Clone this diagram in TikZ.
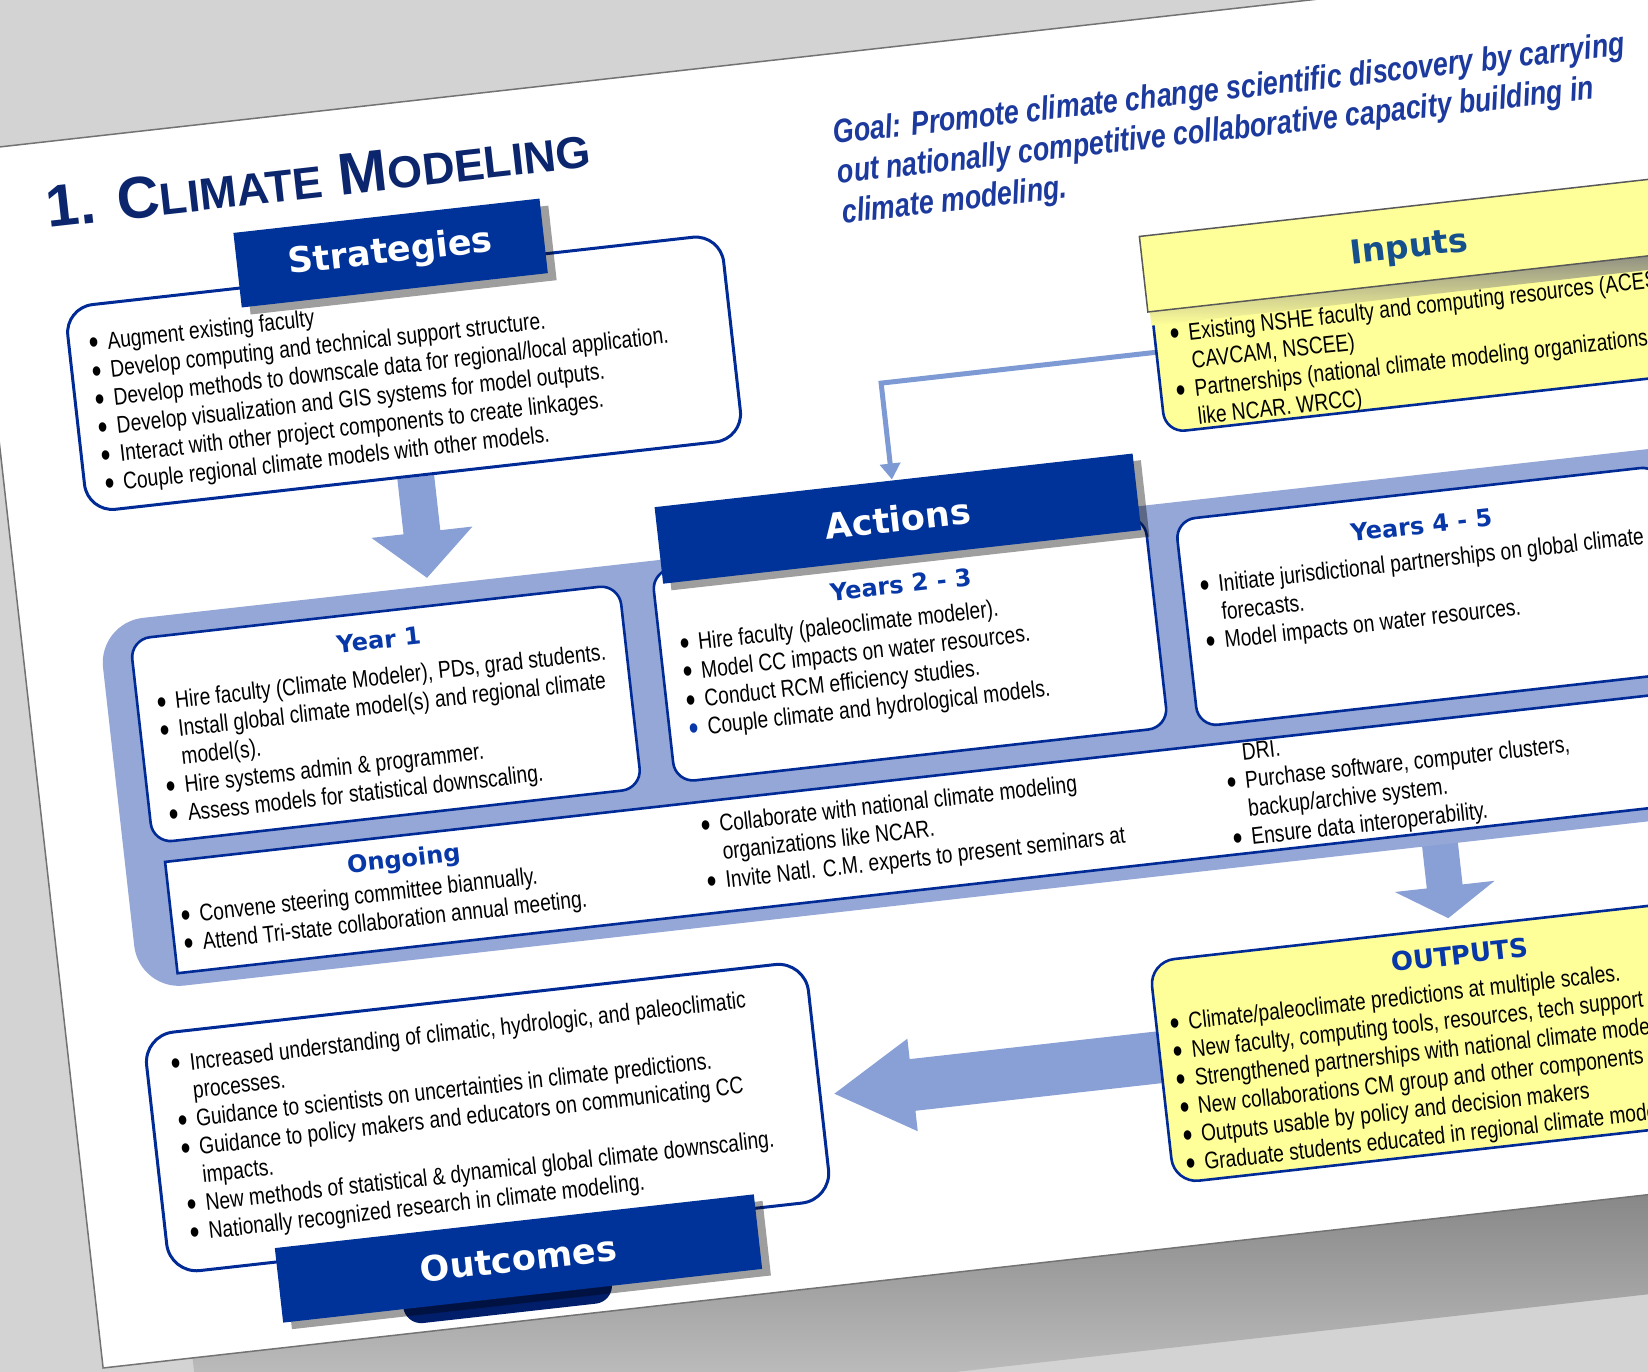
\documentclass[tikz,border=0pt]{standalone}
\usepackage{fontspec}
\setmainfont{Liberation Sans}
\newfontfamily\bodyfont{Liberation Sans}[FakeStretch=0.80]
\newfontfamily\headfont{DejaVu Sans}
\usetikzlibrary{arrows.meta}
\definecolor{navy}{RGB}{0,51,153}
\definecolor{boxline}{RGB}{0,42,150}
\definecolor{panelblue}{RGB}{148,167,214}
\definecolor{arrowblue}{RGB}{137,160,214}
\definecolor{connblue}{RGB}{126,154,212}
\definecolor{headblue}{RGB}{8,56,168}
\definecolor{titleblue}{RGB}{12,38,110}
\definecolor{goalblue}{RGB}{28,58,158}
\definecolor{inputblue}{RGB}{22,80,140}
\definecolor{paleyellow}{RGB}{255,255,153}
\definecolor{bggray}{RGB}{211,211,211}
\definecolor{darknavy}{RGB}{0,30,105}
\newcommand\mydot{\raisebox{-3.8pt}{\scalebox{1.45}{\textbullet}}}
\newcommand\mybul[1]{\hbox{\hbox to 18.5pt{\mydot\hss}#1}}
\newcommand\mybulb[1]{\hbox{\hbox to 18.5pt{\textcolor{headblue}{\mydot}\hss}#1}}
\newcommand\mycont[1]{\hbox{\hskip18.5pt #1}}
\newcommand\mylist[1]{\vtop{\baselineskip=28.3pt #1}}
\pgfdeclarelayer{slide}
\pgfdeclarelayer{arrows}
\pgfsetlayers{slide,arrows,main}
\begin{document}
\begin{tikzpicture}[x=1pt,y=1pt,
  box/.style={draw=boxline, line width=2.6pt, fill=white, rounded corners=20pt, inner sep=0pt},
  ybox/.style={box, fill=paleyellow},
  hdr/.style={fill=navy, text=white, inner sep=0pt, font=\headfont\bfseries\fontsize{35}{40}\selectfont},
  shd/.style={fill=black, opacity=0.38, inner sep=0pt},
  sub/.style={anchor=base, inner sep=0pt, text=headblue, font=\headfont\bfseries\fontsize{24}{28}\selectfont},
  txt/.style={anchor=base west, inner sep=0pt, text=black, font=\bodyfont\fontsize{24}{28.3}\selectfont},
  bigarrow/.style={draw=arrowblue},
  conn/.style={draw=connblue, line width=5pt, -{Triangle[width=20pt,length=16pt]}}
]
\useasboundingbox (0,-1372) rectangle (1648,0);
\begin{pgfonlayer}{slide}
\fill[bggray] (0,-1372) rectangle (1648,0);
\end{pgfonlayer}
\begin{scope}[rotate=6.4, transform shape]
\begin{pgfonlayer}{slide}
\shade[top color=black!58, bottom color=bggray] (40,-1371) rectangle (2400,-1470);
\fill[white, draw=black!55, line width=1.5pt] (-50,-146) rectangle (2400,-1371);
\end{pgfonlayer}
% title and goal
\node[anchor=base west, inner sep=0pt, text=titleblue, font=\bfseries\fontsize{59}{65}\selectfont] (title) at (23,-232)
  {1. C{\fontsize{44.8}{50}\selectfont LIMATE} M{\fontsize{44.8}{50}\selectfont ODELING}};
\node[anchor=base west, inner sep=0pt, text=goalblue, font=\bodyfont\bfseries\itshape\fontsize{33.5}{40}\selectfont] (goal) at (813,-236)
  {\vtop{\baselineskip=40pt \hbox{Goal: Promote climate change scientific discovery by carrying}\hbox{out nationally competitive collaborative capacity building in}\hbox{climate modeling.}}};
% strategies
\node[box, rounded corners=28pt, line width=3pt, minimum width=660pt, minimum height=206pt] (strat) at (360,-416) {};
\node[shd, minimum width=308pt, minimum height=75pt] (strathdrshadow) at (368,-303) {};
\node[hdr, minimum width=308pt, minimum height=75pt] (strathdr) at (360,-295) {Strategies};
\node[txt] (strattext) at (50,-359) {\mylist{\mybul{Augment existing faculty}
\mybul{Develop computing and technical support structure.}
\mybul{Develop methods to downscale data for regional/local application.}
\mybul{Develop visualization and GIS systems for model outputs.}
\mybul{Interact with other project components to create linkages.}
\mybul{Couple regional climate models with other models.}}};
\coordinate (a1t) at (360,-622);
\begin{pgfonlayer}{arrows}
\draw[bigarrow, line width=37pt, -{Triangle[width=99pt,length=46pt]}] (strat.south) -- (a1t);
\end{pgfonlayer}
% inputs
\node[ybox, minimum width=530pt, minimum height=135pt] (inbody) at (1375,-492.5) {};
\shade[top color=black!50, bottom color=paleyellow] (1108,-437) rectangle (1700,-452);
\node[fill=paleyellow, draw=black!65, line width=1.5pt, inner sep=0pt, minimum width=533pt, minimum height=76pt] (inhdr) at (1372.5,-400) {};
\node[anchor=base, inner sep=0pt, text=inputblue, font=\headfont\bfseries\fontsize{33}{38}\selectfont] (inhead) at (1372.5,-413) {Inputs};
\node[txt] (intext) at (1125.4,-470.5) {\mylist{\mybul{Existing NSHE faculty and computing resources (ACES,}
\mycont{CAVCAM, NSCEE)}
\mybul{Partnerships (national climate modeling organizations}
\mycont{like NCAR. WRCC)}}};
\coordinate (c0) at (1110,-479);
\coordinate (c1) at (833,-479);
\coordinate (ain) at (833,-576);
\begin{pgfonlayer}{arrows}
\draw[conn] (c0) -- (c1) -- (ain);
\end{pgfonlayer}
% actions panel
\node[fill=panelblue, rounded corners=45pt, inner sep=0pt, minimum width=2372pt, minimum height=370pt] (panel) at (1214,-815) {};
\node[box, minimum width=492pt, minimum height=205pt] (year1) at (304,-752.5) {};
\node[box, minimum width=496pt, minimum height=213pt] (y23) at (832,-746.5) {};
\node[box, minimum width=488pt, minimum height=208pt] (y45) at (1354,-752) {};
\node[shd, minimum width=481pt, minimum height=77pt] (acthdrshadow) at (842,-623) {};
\node[hdr, minimum width=481pt, minimum height=77pt] (acthdr) at (834.5,-615.5) {Actions};
\node[box, sharp corners, minimum width=2332pt, minimum height=112pt] (ongoing) at (1234,-931) {};
\node[sub] (y1head) at (305,-687) {Year 1};
\node[txt] (y1text) at (77.4,-723.6) {\mylist{\mybul{Hire faculty (Climate Modeler), PDs, grad students.}
\mybul{Install global climate model(s) and regional climate}
\mycont{model(s).}
\mybul{Hire systems admin \& programmer.}
\mybul{Assess models for statistical downscaling.}}};
\node[sub] (y23head) at (830,-690) {Years 2 - 3};
\node[txt] (y23text) at (603.6,-723.9) {\mylist{\mybul{Hire faculty (paleoclimate modeler).}
\mybul{Model CC impacts on water resources.}
\mybul{Conduct RCM efficiency studies.}
\mybulb{Couple climate and hydrological models.}}};
\node[sub] (y45head) at (1354,-689) {Years 4 - 5};
\node[txt] (y45text) at (1127.2,-724) {\mylist{\mybul{Initiate jurisdictional partnerships on global climate}
\mycont{forecasts.}
\mybul{Model impacts on water resources.}}};
\node[sub] (onghead) at (305.5,-906.6) {Ongoing};
\node[txt] (ongtext1) at (77.7,-938.3) {\mylist{\mybul{Convene steering committee biannually.}
\mybul{Attend Tri-state collaboration annual meeting.}}};
\node[txt] (ongtext2) at (604.5,-906.9) {\mylist{\mybul{Collaborate with national climate modeling}
\mycont{organizations like NCAR.}
\mybul{Invite Natl. C.M. experts to present seminars at}}};
\node[txt] (ongtext3) at (1131.8,-894.1) {\mylist{\mycont{DRI.}
\mybul{Purchase software, computer clusters,}
\mycont{backup/archive system.}
\mybul{Ensure data interoperability.}}};
\coordinate (a2s) at (1337,-990);
\coordinate (a2t) at (1337,-1074);
\begin{pgfonlayer}{arrows}
\draw[bigarrow, line width=36pt, -{Triangle[width=99pt,length=32pt]}] (a2s) -- (a2t);
\end{pgfonlayer}
% outputs
\node[ybox, rounded corners=25pt, minimum width=618pt, minimum height=223pt] (outputs) at (1344,-1195.5) {};
\node[sub, font=\headfont\bfseries\fontsize{26}{30}\selectfont] (outhead) at (1344,-1121) {OUTPUTS};
\node[txt] (outtext) at (1048.7,-1155.6) {\mylist{\mybul{Climate/paleoclimate predictions at multiple scales.}
\mybul{New faculty, computing tools, resources, tech support}
\mybul{Strengthened partnerships with national climate modeling}
\mybul{New collaborations CM group and other components}
\mybul{Outputs usable by policy and decision makers}
\mybul{Graduate students educated in regional climate modeling.}}};
\coordinate (a3s) at (1060,-1180);
\coordinate (a3t) at (706,-1180);
\begin{pgfonlayer}{arrows}
\draw[bigarrow, line width=52pt, -{Triangle[width=87pt,length=80pt]}] (a3s) -- (a3t);
\end{pgfonlayer}
% outcomes
\node[box, rounded corners=30pt, line width=3pt, minimum width=666pt, minimum height=240pt] (outcomes) at (360,-1165) {};
\node[txt] (outctext) at (51.6,-1084.7) {\mylist{\mybul{Increased understanding of climatic, hydrologic, and paleoclimatic}
\mycont{processes.}
\mybul{Guidance to scientists on uncertainties in climate predictions.}
\mybul{Guidance to policy makers and educators on communicating CC}
\mycont{impacts.}
\mybul{New methods of statistical \& dynamical global climate downscaling.}
\mybul{Nationally recognized research in climate modeling.}}};
\node[fill=darknavy, rounded corners=18pt, inner sep=0pt, minimum width=210pt, minimum height=50pt] (outblob) at (360,-1337) {};
\node[shd, minimum width=482pt, minimum height=75pt] (outhdrshadow) at (383,-1316) {};
\node[hdr, minimum width=482pt, minimum height=75pt] (outhdr) at (375,-1308.5) {Outcomes};
\end{scope}
\end{tikzpicture}
\end{document}
